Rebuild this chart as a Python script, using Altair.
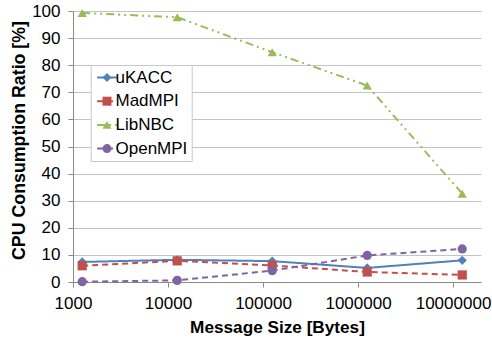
import altair as alt
import pandas as pd

# ---- data ----
msg_sizes = [1250, 12500, 125000, 1250000, 12500000]
series = ["uKACC", "MadMPI", "LibNBC", "OpenMPI"]
ukacc = [7.4, 8.2, 7.7, 5.2, 8.0]
madmpi = [6.0, 7.8, 6.1, 3.7, 2.6]
libnbc = [99.3, 97.7, 84.8, 72.5, 32.6]
openmpi = [0.1, 0.6, 4.2, 9.8, 12.2]
x_ticks = [1000, 10000, 100000, 1000000, 10000000]
y_ticks = list(range(0, 101, 10))

colors = ["#4F81BD", "#C0504D", "#9BBB59", "#8064A2"]
shapes = ["diamond", "square", "triangle-up", "circle"]
dashes = [[1, 0], [6, 4], [8, 4, 2, 4, 2, 4], [6, 4]]

rows = []
for name, vals in zip(series, [ukacc, madmpi, libnbc, openmpi]):
    for s, v in zip(msg_sizes, vals):
        rows.append({"size": s, "ratio": v, "series": name})
df = pd.DataFrame(rows)

FONT = "Liberation Sans"
GRID = "#C4C4C4"
AXC = "#8A8A8A"

x_enc = alt.X(
    "size:Q",
    scale=alt.Scale(type="log", domain=[1000, 19700000], nice=False),
    axis=alt.Axis(
        values=x_ticks, format="d", grid=False,
        domainColor=AXC, tickColor=AXC, tickSize=5,
        labelFont=FONT, labelFontSize=17, labelColor="black", labelPadding=8,
        labelFlush=False, labelOverlap=False,
        title="Message Size [Bytes]", titleFont=FONT, titleFontSize=17.2,
        titleFontWeight="bold", titleColor="black",
        titleX=204, titleY=50, titleBaseline="alphabetic", titleAlign="center",
    ),
)
y_enc = alt.Y(
    "ratio:Q",
    scale=alt.Scale(domain=[0, 100], nice=False),
    axis=alt.Axis(
        values=y_ticks, grid=True, gridColor=GRID, gridWidth=1,
        domainColor=AXC, tickColor=AXC, tickSize=5,
        labelFont=FONT, labelFontSize=17, labelColor="black", labelPadding=8,
        title="CPU Consumption Ratio [%]", titleFont=FONT, titleFontSize=17.8,
        titleFontWeight="bold", titleColor="black",
        titleX=-54, titleY=129, titleAngle=270, titleBaseline="middle",
        titleAlign="center",
    ),
)

common_legend = dict(
    orient="none", legendX=17.7, legendY=54, title=None,
    symbolSize=81, labelFont=FONT, labelFontSize=17,
    labelOffset=0, padding=4, rowPadding=5.7, symbolOffset=3.8,
)

legend_lines = alt.Legend(
    symbolType="M-2.2,0H2.2", symbolStrokeWidth=2,
    labelOpacity=0, fillColor="white", strokeColor="#C8C8C8",
    zindex=0, **common_legend,
)
legend_pts = alt.Legend(labelColor="black", zindex=1, **common_legend)

lines = alt.Chart(df).mark_line(strokeWidth=2).encode(
    x=x_enc, y=y_enc,
    color=alt.Color("series:N", sort=series,
                    scale=alt.Scale(domain=series, range=colors),
                    legend=legend_lines),
    strokeDash=alt.StrokeDash("series:N", sort=series,
                              scale=alt.Scale(domain=series, range=dashes),
                              legend=None),
)

points = alt.Chart(df).mark_point(filled=True, opacity=1, size=85).encode(
    x=x_enc, y=y_enc,
    color=alt.Color("series:N", sort=series,
                    scale=alt.Scale(domain=series, range=colors),
                    legend=legend_pts),
    shape=alt.Shape("series:N", sort=series,
                    scale=alt.Scale(domain=series, range=shapes),
                    legend=legend_pts),
)

chart = alt.layer(lines, points).resolve_scale(
    color="independent", shape="independent", strokeDash="independent"
).properties(
    width=408, height=271,
    padding={"left": 73, "top": 11, "right": 11, "bottom": 57},
    autosize=alt.AutoSizeParams(type="none"),
    background="white",
).configure_view(stroke=None)

chart.save("out.html", embed_options={"renderer": "svg", "actions": False})
